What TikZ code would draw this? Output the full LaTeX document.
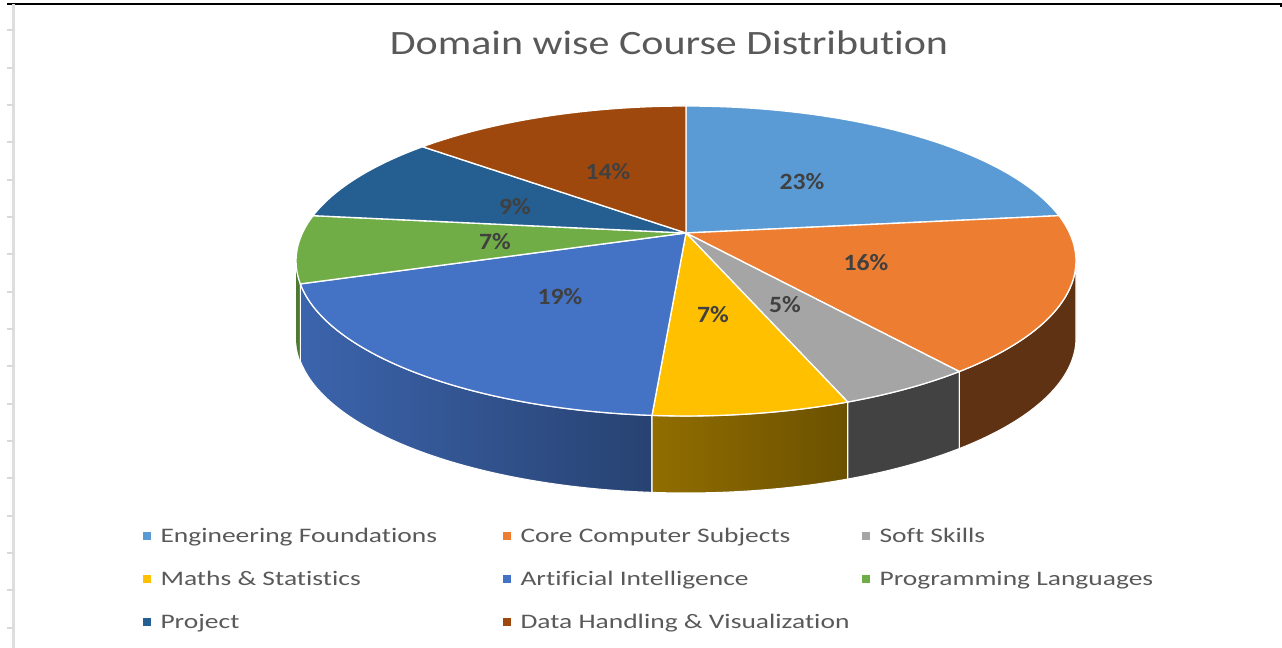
\documentclass[tikz,border=0pt]{standalone}
\usepackage{fontspec}
\defaultfontfeatures{Ligatures={TeX,NoCommon}}
\setmainfont{Carlito}
\newfontfamily\titlefont[FakeStretch=1.23]{Carlito}
\newfontfamily\legendfont[FakeStretch=1.33]{Carlito}
\newfontfamily\pctfont[FakeStretch=1.1]{Carlito}
\usepackage{xcolor}
\definecolor{colEng}{HTML}{5B9BD5}
\definecolor{colCore}{HTML}{ED7D31}
\definecolor{colSoft}{HTML}{A5A5A5}
\definecolor{colMath}{HTML}{FFC000}
\definecolor{colAI}{HTML}{4472C4}
\definecolor{colProg}{HTML}{70AD47}
\definecolor{colProj}{HTML}{255E91}
\definecolor{colData}{HTML}{9E480E}
\definecolor{colText}{HTML}{595959}
\definecolor{colPct}{HTML}{404040}
\usepackage{tikz}
\usetikzlibrary{positioning}
\tikzset{slice/.style={draw=white, line width=1, line join=round},
  wall/.style={draw=white, line width=0.8, line join=round},
  pct/.style={text=colPct, font=\pctfont\bfseries\fontsize{17.5}{20}\selectfont},
  legkey/.style={minimum size=5.5pt, inner sep=0pt},
  legtext/.style={text=colText, anchor=west, inner sep=0pt, text height=13pt, text depth=3pt, font=\legendfont\fontsize{15.5}{18}\selectfont}}

\begin{document}
\begin{tikzpicture}[x=0.75pt, y=0.75pt]
\useasboundingbox (0,0) rectangle (1282,648);
% frame remains of the sheet
\draw[black, line width=1.1] (7,644) -- (1281,644) -- (1281,641);
\draw[black!13, line width=2.2] (13.5,644) -- (13.5,0);
\foreach \k in {0,...,16} \draw[black!15, line width=1.5] (7,617.7-37.33*\k) -- (13,617.7-37.33*\k);
% title
\node[text=colText, font=\titlefont\fontsize{25.6}{30}\selectfont] (title) at (669,605) {Domain wise Course Distribution};
% pie
\coordinate (apex) at (686,415);
\coordinate (ctr) at (686,387);
\fill[colProg!70!black] ([shift={(180:390 and 155)}]ctr) arc[start angle=180, end angle=188.5, x radius=390, y radius=155] -- ++(0,-77) arc[start angle=188.5, end angle=180, x radius=390, y radius=155] -- cycle;
\shade[left color=colAI!88!black, right color=colAI!58!black, wall] ([shift={(188.5:390 and 155)}]ctr) arc[start angle=188.5, end angle=265, x radius=390, y radius=155] -- ++(0,-77) arc[start angle=265, end angle=188.5, x radius=390, y radius=155] -- cycle;
\shade[left color=colMath!57!black, right color=colMath!42!black, wall] ([shift={(265:390 and 155)}]ctr) arc[start angle=265, end angle=294.5, x radius=390, y radius=155] -- ++(0,-77) arc[start angle=294.5, end angle=265, x radius=390, y radius=155] -- cycle;
\fill[colSoft!40!black, wall] ([shift={(294.5:390 and 155)}]ctr) arc[start angle=294.5, end angle=314.5, x radius=390, y radius=155] -- ++(0,-77) arc[start angle=314.5, end angle=294.5, x radius=390, y radius=155] -- cycle;
\fill[colCore!40!black, wall] ([shift={(314.5:390 and 155)}]ctr) arc[start angle=314.5, end angle=360, x radius=390, y radius=155] -- ++(0,-77) arc[start angle=360, end angle=314.5, x radius=390, y radius=155] -- cycle;
\filldraw[fill=colEng, slice] (apex) -- ([shift={(90:390 and 155)}]ctr) arc[start angle=90, end angle=17, x radius=390, y radius=155] -- cycle;
\filldraw[fill=colCore, slice] (apex) -- ([shift={(17:390 and 155)}]ctr) arc[start angle=17, end angle=-45.5, x radius=390, y radius=155] -- cycle;
\filldraw[fill=colSoft, slice] (apex) -- ([shift={(-45.5:390 and 155)}]ctr) arc[start angle=-45.5, end angle=-65.5, x radius=390, y radius=155] -- cycle;
\filldraw[fill=colMath, slice] (apex) -- ([shift={(-65.5:390 and 155)}]ctr) arc[start angle=-65.5, end angle=-95, x radius=390, y radius=155] -- cycle;
\filldraw[fill=colAI, slice] (apex) -- ([shift={(-95:390 and 155)}]ctr) arc[start angle=-95, end angle=-171.5, x radius=390, y radius=155] -- cycle;
\filldraw[fill=colProg, slice] (apex) -- ([shift={(-171.5:390 and 155)}]ctr) arc[start angle=-171.5, end angle=-197, x radius=390, y radius=155] -- cycle;
\filldraw[fill=colProj, slice] (apex) -- ([shift={(-197:390 and 155)}]ctr) arc[start angle=-197, end angle=-227.5, x radius=390, y radius=155] -- cycle;
\filldraw[fill=colData, slice] (apex) -- ([shift={(-227.5:390 and 155)}]ctr) arc[start angle=-227.5, end angle=-270, x radius=390, y radius=155] -- cycle;
% percentages
\node[pct] (pEng) at (802,466) {23\%};
\node[pct] (pCore) at (866,385) {16\%};
\node[pct] (pSoft) at (785,343) {5\%};
\node[pct] (pMath) at (713,333) {7\%};
\node[pct] (pAI) at (560,351) {19\%};
\node[pct] (pProg) at (495,406) {7\%};
\node[pct] (pProj) at (515,441) {9\%};
\node[pct] (pData) at (608,476) {14\%};
% legend
\node[legkey, fill=colEng] (kEng) at (147,112) {};
\node[legtext, right=7pt of kEng] (tEng) {Engineering Foundations};
\node[legkey, fill=colCore] (kCore) at (507,112) {};
\node[legtext, right=7pt of kCore] (tCore) {Core Computer Subjects};
\node[legkey, fill=colSoft] (kSoft) at (866,112) {};
\node[legtext, right=7pt of kSoft] (tSoft) {Soft Skills};
\node[legkey, fill=colMath] (kMath) at (147,69) {};
\node[legtext, right=7pt of kMath] (tMath) {Maths \& Statistics};
\node[legkey, fill=colAI] (kAI) at (507,69) {};
\node[legtext, right=7pt of kAI] (tAI) {Artificial Intelligence};
\node[legkey, fill=colProg] (kProg) at (866,69) {};
\node[legtext, right=7pt of kProg] (tProg) {Programming Languages};
\node[legkey, fill=colProj] (kProj) at (147,26) {};
\node[legtext, right=7pt of kProj] (tProj) {Project};
\node[legkey, fill=colData] (kData) at (507,26) {};
\node[legtext, right=7pt of kData] (tData) {Data Handling \& Visualization};
\end{tikzpicture}
\end{document}
